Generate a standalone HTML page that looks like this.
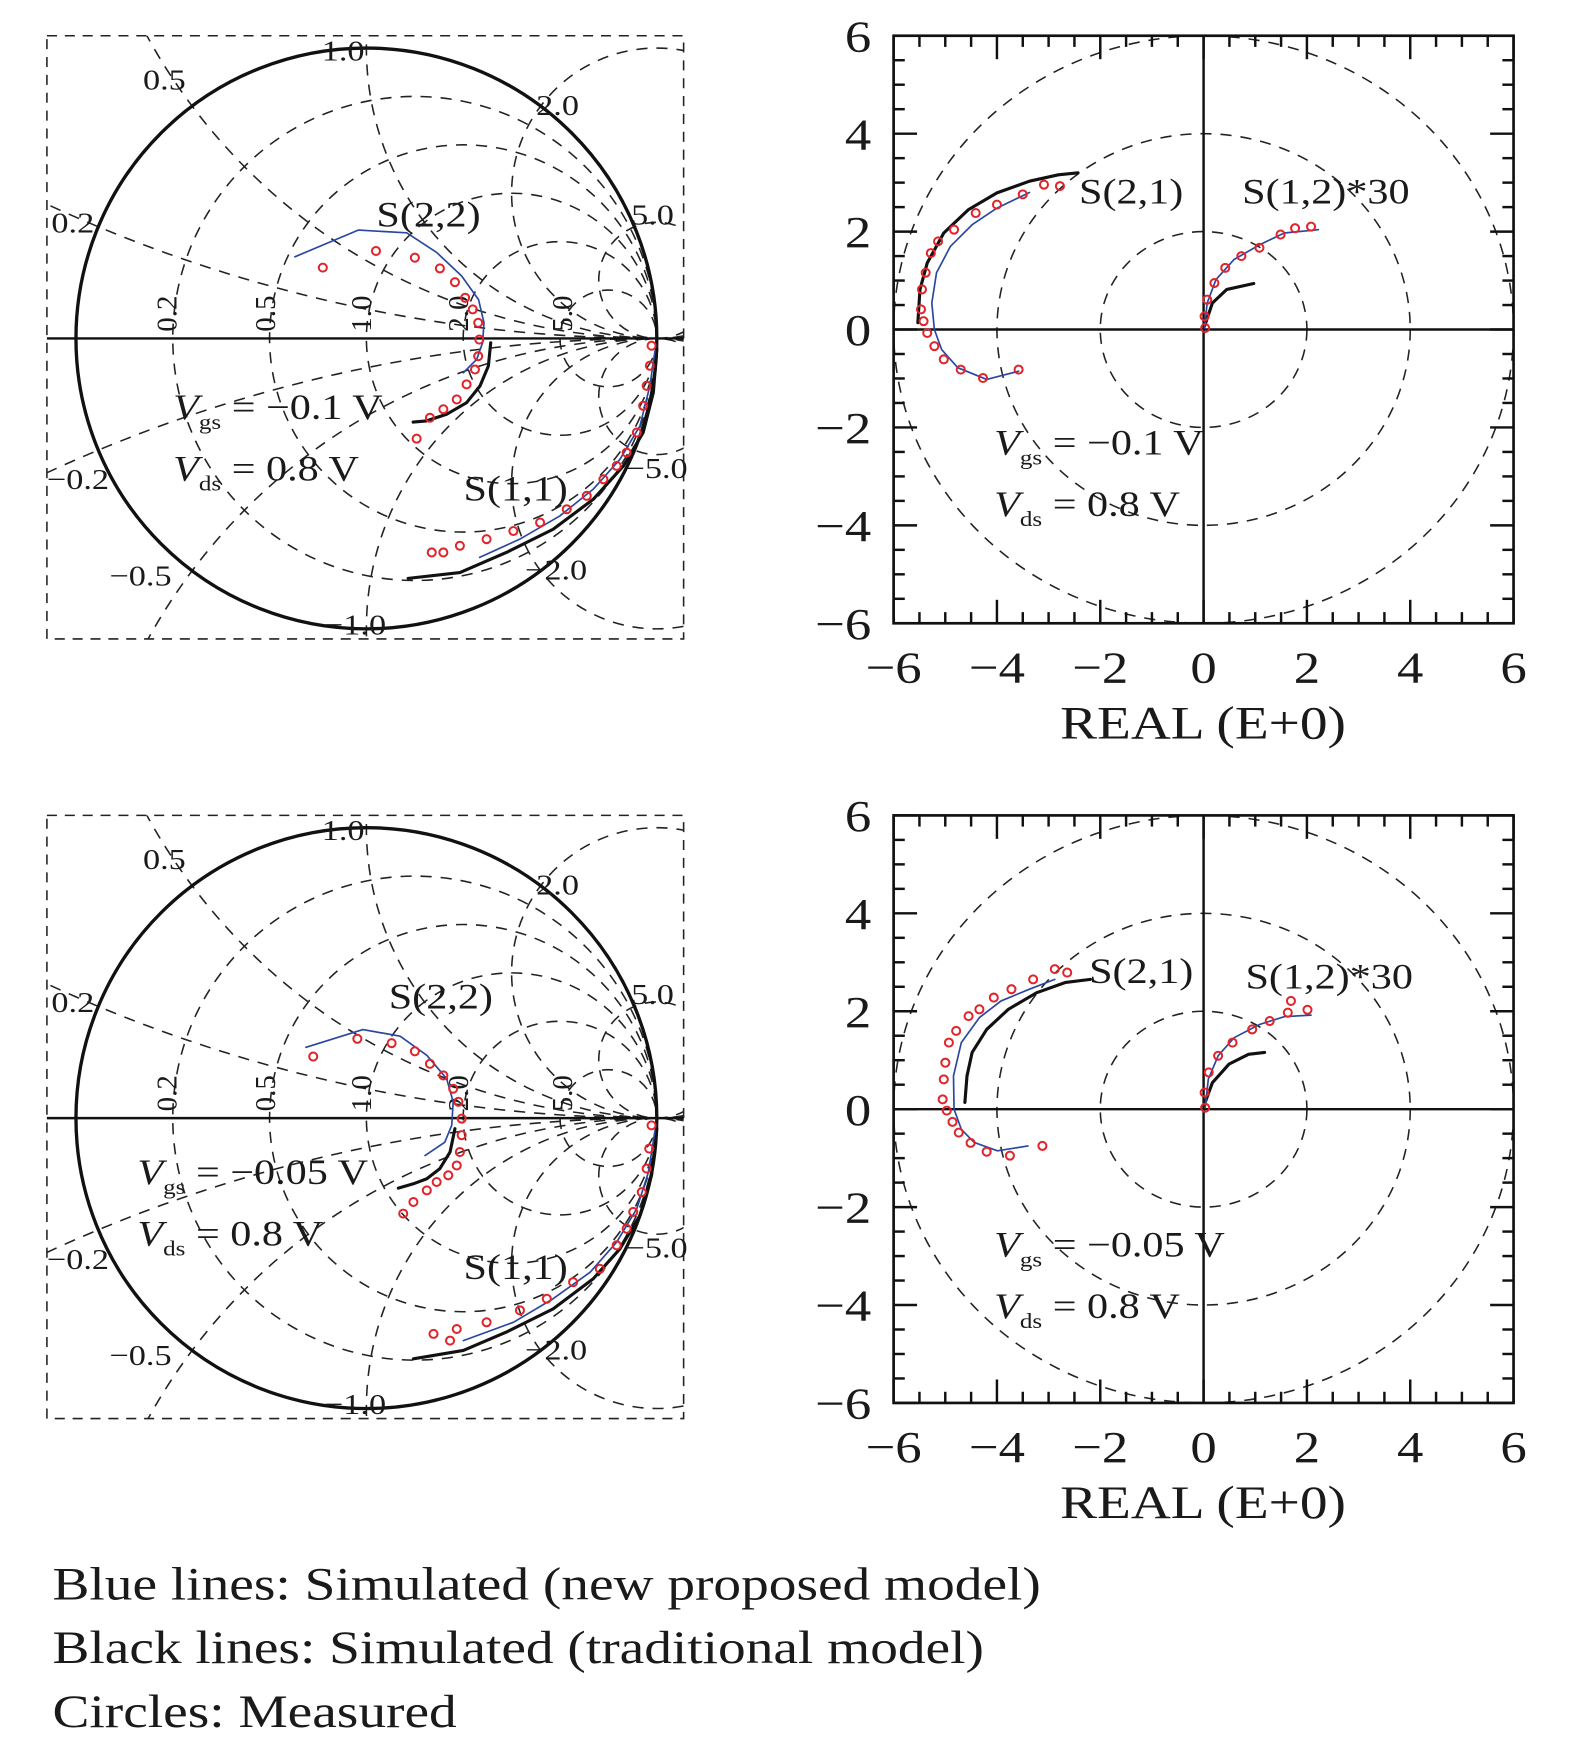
<!DOCTYPE html>
<html><head><meta charset="utf-8"><style>
html,body{margin:0;padding:0;background:#fff;overflow:hidden;width:1575px;height:1752px;}
svg{display:block;}
text{font-family:"Liberation Serif",serif;fill:#1a1a1a;}
</style></head><body>
<svg id="fig" width="1575" height="1752" viewBox="0 0 1410 1568.5" preserveAspectRatio="none" xmlns="http://www.w3.org/2000/svg">
<defs>
<clipPath id="clipTL"><rect x="42" y="32" width="570" height="540"/></clipPath>
<clipPath id="clipBL"><rect x="42" y="730" width="570" height="540"/></clipPath>
<clipPath id="clipTR"><rect x="800" y="32" width="555" height="526"/></clipPath>
<clipPath id="clipBR"><rect x="800" y="730" width="555" height="526"/></clipPath>
</defs>
<g id="layer"></g>
<text x="47" y="1432" font-size="42">Blue lines: Simulated (new proposed model)</text>
<text x="47" y="1489" font-size="42">Black lines: Simulated (traditional model)</text>
<text x="47" y="1546" font-size="42">Circles: Measured</text>
</svg>
<script>
// ---- Smith chart data (reflection coefficient, u = real, v = imag) ----
const tlS22BlueU=[-0.246,-0.028,0.139,0.242,0.328,0.386,0.405,0.4,0.38,0.334];
const tlS22BlueV=[0.281,0.373,0.364,0.296,0.215,0.134,0.054,-0.015,-0.072,-0.118];
const tlS22RedU=[-0.15,0.033,0.167,0.253,0.305,0.34,0.366,0.385,0.389,0.385,0.374,0.345,0.311,0.265,0.219,0.173];
const tlS22RedV=[0.244,0.301,0.278,0.241,0.194,0.14,0.1,0.054,-0.004,-0.061,-0.107,-0.158,-0.21,-0.244,-0.273,-0.345];
const tlS22BlackU=[0.428,0.42,0.391,0.345,0.276,0.207,0.161];
const tlS22BlackV=[-0.015,-0.095,-0.164,-0.221,-0.261,-0.284,-0.288];
const tlS11RedU=[0.982,0.976,0.965,0.953,0.931,0.896,0.862,0.816,0.759,0.69,0.598,0.506,0.414,0.322,0.265,0.225];
const tlS11RedV=[-0.025,-0.094,-0.163,-0.232,-0.324,-0.393,-0.439,-0.485,-0.542,-0.588,-0.634,-0.663,-0.691,-0.714,-0.737,-0.737];
const tlS11BlueU=[0.994,0.976,0.942,0.873,0.781,0.666,0.528,0.39];
const tlS11BlueV=[-0.042,-0.163,-0.301,-0.416,-0.519,-0.611,-0.691,-0.754];
const tlS11BlackU=[1.0,0.988,0.953,0.885,0.781,0.643,0.482,0.322,0.144];
const tlS11BlackV=[-0.036,-0.186,-0.324,-0.439,-0.554,-0.657,-0.737,-0.806,-0.826];

const blS22BlueU=[-0.208,-0.012,0.116,0.208,0.276,0.299,0.294,0.27,0.202];
const blS22BlueV=[0.244,0.305,0.282,0.216,0.136,0.056,-0.025,-0.083,-0.129];
const blS22RedU=[-0.183,-0.031,0.087,0.167,0.219,0.265,0.299,0.317,0.328,0.328,0.322,0.311,0.282,0.242,0.208,0.162,0.127];
const blS22RedV=[0.212,0.273,0.258,0.23,0.187,0.147,0.101,0.056,-0.002,-0.059,-0.117,-0.163,-0.197,-0.22,-0.249,-0.289,-0.329];
const blS22BlackU=[0.305,0.288,0.253,0.208,0.162,0.11];
const blS22BlackV=[-0.036,-0.117,-0.174,-0.209,-0.226,-0.241];
const blS11RedU=[0.982,0.974,0.965,0.948,0.919,0.896,0.862,0.804,0.712,0.621,0.529,0.414,0.311,0.231,0.288];
const blS11RedV=[-0.025,-0.105,-0.174,-0.255,-0.323,-0.381,-0.438,-0.519,-0.565,-0.622,-0.662,-0.703,-0.726,-0.743,-0.766];
const blS11BlueU=[0.994,0.971,0.931,0.862,0.77,0.643,0.506,0.334];
const blS11BlueV=[-0.042,-0.186,-0.312,-0.427,-0.531,-0.622,-0.703,-0.766];
const blS11BlackU=[1.0,0.982,0.942,0.873,0.781,0.643,0.482,0.334,0.162];
const blS11BlackV=[-0.036,-0.197,-0.335,-0.45,-0.553,-0.657,-0.737,-0.8,-0.829];

// ---- Polar chart data ----
const trS21RedX=[-2.78,-3.09,-3.5,-4.0,-4.41,-4.83,-5.14,-5.28,-5.38,-5.45,-5.47,-5.42,-5.35,-5.21,-5.03,-4.7,-4.27,-3.58];
const trS21RedY=[2.93,2.96,2.76,2.55,2.38,2.04,1.8,1.56,1.16,0.82,0.41,0.17,-0.07,-0.34,-0.61,-0.82,-0.99,-0.82];
const trS21BlueX=[-3.37,-4.0,-4.48,-4.9,-5.17,-5.26,-5.21,-5.07,-4.76,-4.2,-3.58];
const trS21BlueY=[2.8,2.48,2.14,1.7,1.16,0.54,0,-0.41,-0.78,-1.02,-0.85];
const trS21BlackX=[-2.43,-2.81,-3.37,-4.0,-4.55,-5.03,-5.35,-5.49,-5.53];
const trS21BlackY=[3.2,3.16,3.03,2.79,2.45,1.97,1.36,0.82,0.14];
const trS12RedX=[0.03,0.02,0.07,0.21,0.42,0.73,1.08,1.49,1.77,2.08];
const trS12RedY=[0.03,0.27,0.61,0.95,1.26,1.5,1.67,1.94,2.07,2.1];
const trS12BlueX=[0.02,0.07,0.24,0.59,1.08,1.56,2.22];
const trS12BlueY=[0.03,0.54,1.02,1.43,1.73,1.97,2.04];
const trS12BlackX=[0.02,0.17,0.45,0.97];
const trS12BlackY=[0.07,0.54,0.82,0.94];

const brS21RedX=[-2.64,-2.88,-3.3,-3.72,-4.06,-4.34,-4.55,-4.79,-4.93,-5.0,-5.03,-5.05,-4.97,-4.86,-4.74,-4.51,-4.2,-3.75,-3.12];
const brS21RedY=[2.79,2.86,2.65,2.45,2.28,2.04,1.9,1.6,1.36,0.95,0.61,0.2,-0.03,-0.26,-0.48,-0.69,-0.87,-0.95,-0.75];
const brS21BlueX=[-2.88,-3.37,-3.92,-4.34,-4.69,-4.84,-4.83,-4.69,-4.44,-3.99,-3.4];
const brS21BlueY=[2.65,2.45,2.21,1.87,1.36,0.68,0,-0.41,-0.68,-0.85,-0.75];
const brS21BlackX=[-2.19,-2.67,-3.23,-3.78,-4.2,-4.48,-4.58,-4.62];
const brS21BlackY=[2.65,2.59,2.38,2.04,1.63,1.16,0.68,0.14];
const brS12RedX=[0.03,0.02,0.1,0.28,0.56,0.94,1.28,1.63,1.69,2.01];
const brS12RedY=[0.03,0.34,0.75,1.09,1.36,1.63,1.8,1.97,2.21,2.03];
const brS12BlueX=[0.03,0.09,0.28,0.59,1.08,1.56,2.08];
const brS12BlueY=[0.03,0.61,1.09,1.46,1.73,1.89,1.92];
const brS12BlackX=[0.03,0.17,0.49,0.87,1.18];
const brS12BlackY=[0.14,0.54,0.92,1.12,1.16];

const polarTicks=[-6,-4,-2,0,2,4,6];
const smithR=[0.2,0.5,1,2,5];
const smithX=[0.2,0.5,1,2,5];

const NS='http://www.w3.org/2000/svg';
const layer=document.getElementById('layer');
function mk(tag,attrs,parent){const e=document.createElementNS(NS,tag);for(const k in attrs)e.setAttribute(k,attrs[k]);(parent||layer).appendChild(e);return e;}
function txt(x,y,s,size,parent,extra){const t=mk('text',Object.assign({x:x,y:y,'font-size':size},extra||{}),parent);t.textContent=s;return t;}

function polyline(pts,color,w,parent,name){
  const p=mk('polyline',{points:pts.map(q=>q[0].toFixed(1)+','+q[1].toFixed(1)).join(' '),fill:'none',stroke:color,'stroke-width':w,'stroke-linejoin':'round','stroke-linecap':'round'},parent);
  
  
}
function markers(pts,parent,name){
  const g=mk('g',{},parent);
  
  
  pts.forEach(q=>{
    const c=mk('circle',{cx:q[0].toFixed(1),cy:q[1].toFixed(1),r:3.6,fill:'none',stroke:'#e0242a','stroke-width':1.8},g);
    
    
  });
}

function smith(id,cx,cy,R,box,clip,sets,labels){
  const g=mk('g',{});
  
  
  const sx=u=>cx+u*R, sy=v=>cy-v*R;
  const b=mk('rect',{x:box[0],y:box[1],width:box[2]-box[0],height:box[3]-box[1],fill:'none',stroke:'#222','stroke-width':1.4,'stroke-dasharray':'9,7'},g);
  
  
  const grid=mk('g',{'clip-path':'url(#'+clip+')',fill:'none',stroke:'#222','stroke-width':1.4,'stroke-dasharray':'10,8'},g);
  
  
  smithR.forEach(r=>{const c=mk('circle',{cx:sx(r/(1+r)),cy:cy,r:R/(1+r)},grid);
    
    });
  smithX.forEach(x=>{[1,-1].forEach(s=>{const c=mk('circle',{cx:cx+R,cy:cy-s*R/x,r:R/x},grid);
    
    });});
  const ax=mk('line',{x1:box[0],y1:cy,x2:box[2],y2:cy,stroke:'#111','stroke-width':2.2},g);
  
  
  const uc=mk('circle',{cx:cx,cy:cy,r:R,fill:'none',stroke:'#111','stroke-width':3},g);
  
  
  labels.forEach(l=>{
    const t=txt(l[0],l[1],l[2],26,g,l[3]?{transform:'rotate(-90 '+l[0]+' '+l[1]+')'}:{});
    
    
  });
  const P=(U,V)=>U.map((u,i)=>[sx(u),sy(V[i])]);
  polyline(P(sets.s22k[0],sets.s22k[1]),'#111',2.8,g,'s22-traditional-line');
  polyline(P(sets.s11k[0],sets.s11k[1]),'#111',2.8,g,'s11-traditional-line');
  polyline(P(sets.s22b[0],sets.s22b[1]),'#2a47a0',1.5,g,'s22-proposed-line');
  polyline(P(sets.s11b[0],sets.s11b[1]),'#2a47a0',1.5,g,'s11-proposed-line');
  markers(P(sets.s22r[0],sets.s22r[1]),g,'s22-measured');
  markers(P(sets.s11r[0],sets.s11r[1]),g,'s11-measured');
  return g;
}

function smithLabels(dy){
  return [[158,297+dy,'0.2',1],[246,297+dy,'0.5',1],[332,297+dy,'1.0',1],[419,297+dy,'2.0',1],[512,297+dy,'5.0',1],
    [288,54+dy,'1.0'],[128,80+dy,'0.5'],[46,208+dy,'0.2'],[480,103+dy,'2.0'],[565,201+dy,'5.0'],
    [42,438+dy,'\u22120.2'],[98,524+dy,'\u22120.5'],[290,568+dy,'\u22121.0'],[470,519+dy,'\u22122.0'],[560,428+dy,'\u22125.0']];
}

smith('smith-chart-top',328,303,260,[42,32,612,572],'clipTL',
 {s22b:[tlS22BlueU,tlS22BlueV],s22r:[tlS22RedU,tlS22RedV],s22k:[tlS22BlackU,tlS22BlackV],
  s11b:[tlS11BlueU,tlS11BlueV],s11r:[tlS11RedU,tlS11RedV],s11k:[tlS11BlackU,tlS11BlackV]},smithLabels(0));
smith('smith-chart-bottom',328,1001,260,[42,730,612,1270],'clipBL',
 {s22b:[blS22BlueU,blS22BlueV],s22r:[blS22RedU,blS22RedV],s22k:[blS22BlackU,blS22BlackV],
  s11b:[blS11BlueU,blS11BlueV],s11r:[blS11RedU,blS11RedV],s11k:[blS11BlackU,blS11BlackV]},smithLabels(698));

function polar(id,top,clip,sets){
  const L=800,Rr=1355,T=top,B=top+526;
  const sxs=(Rr-L)/12, sys=(B-T)/12;
  const X=v=>L+(v+6)*sxs, Y=v=>B-(v+6)*sys;
  const g=mk('g',{});
  
  
  const grid=mk('g',{'clip-path':'url(#'+clip+')',fill:'none',stroke:'#222','stroke-width':1.4,'stroke-dasharray':'10,8'},g);
  
  
  [2,4,6].forEach(r=>{const e=mk('ellipse',{cx:X(0),cy:Y(0),rx:r*sxs,ry:r*sys},grid);
    
    });
  const fr=mk('rect',{x:L,y:T,width:Rr-L,height:B-T,fill:'none',stroke:'#111','stroke-width':2.4},g);
  
  
  const a1=mk('line',{x1:L,y1:Y(0),x2:Rr,y2:Y(0),stroke:'#111','stroke-width':2.2},g);
  
  
  const a2=mk('line',{x1:X(0),y1:T,x2:X(0),y2:B,stroke:'#111','stroke-width':2.2},g);
  
  
  const tk=mk('g',{stroke:'#111','stroke-width':2.2},g);
  
  
  for(let k=-12;k<=12;k++){
    const v=k/2, major=(k%4===0), len=major?21:10;
    mk('line',{x1:X(v),y1:B,x2:X(v),y2:B-len},tk);
    mk('line',{x1:X(v),y1:T,x2:X(v),y2:T+len},tk);
    mk('line',{x1:L,y1:Y(v),x2:L+len,y2:Y(v)},tk);
    mk('line',{x1:Rr,y1:Y(v),x2:Rr-len,y2:Y(v)},tk);
  }
  polarTicks.forEach(v=>{
    const s=v<0?'\u2212'+(-v):String(v);
    const t1=txt(X(v),B+53,s,40,g,{'text-anchor':'middle'});
    
    
    const t2=txt(L-20,Y(v)+14,s,40,g,{'text-anchor':'end'});
    
    
  });
  const xt=txt(1077,B+103,'REAL (E+0)',42,g,{'text-anchor':'middle'});
  
  
  const P=(A,Bv)=>A.map((x,i)=>[X(x),Y(Bv[i])]);
  polyline(P(sets.s21k[0],sets.s21k[1]),'#111',2.8,g,'s21-traditional-line');
  polyline(P(sets.s12k[0],sets.s12k[1]),'#111',2.8,g,'s12-traditional-line');
  polyline(P(sets.s21b[0],sets.s21b[1]),'#2a47a0',1.5,g,'s21-proposed-line');
  polyline(P(sets.s12b[0],sets.s12b[1]),'#2a47a0',1.5,g,'s12-proposed-line');
  markers(P(sets.s21r[0],sets.s21r[1]),g,'s21-measured');
  markers(P(sets.s12r[0],sets.s12r[1]),g,'s12-measured');
}
polar('polar-chart-top',32,'clipTR',{s21b:[trS21BlueX,trS21BlueY],s21r:[trS21RedX,trS21RedY],s21k:[trS21BlackX,trS21BlackY],
  s12b:[trS12BlueX,trS12BlueY],s12r:[trS12RedX,trS12RedY],s12k:[trS12BlackX,trS12BlackY]});
polar('polar-chart-bottom',730,'clipBR',{s21b:[brS21BlueX,brS21BlueY],s21r:[brS21RedX,brS21RedY],s21k:[brS21BlackX,brS21BlackY],
  s12b:[brS12BlueX,brS12BlueY],s12r:[brS12RedX,brS12RedY],s12k:[brS12BlackX,brS12BlackY]});

function anno(x,y,s,name){const t=txt(x,y,s,32,layer);}
anno(337,203,'S(2,2)','s22-label');anno(415,448,'S(1,1)','s11-label');
anno(966,182,'S(2,1)','s21-label');anno(1112,182,'S(1,2)*30','s12-label');
anno(348,903,'S(2,2)','s22-label');anno(415,1145,'S(1,1)','s11-label');
anno(975,880,'S(2,1)','s21-label');anno(1115,885,'S(1,2)*30','s12-label');
function bias(x,y,sub,val,name){
  const t=mk('text',{x:x,y:y,'font-size':32});
  
  
  t.innerHTML='<tspan font-style="italic">V</tspan><tspan font-size="19" dy="9">'+sub+'</tspan><tspan dy="-9"> = '+val+'</tspan>';
}
bias(155,375,'gs','\u22120.1 V','vgs-label');bias(155,430,'ds','0.8 V','vds-label');
bias(890,407,'gs','\u22120.1 V','vgs-label');bias(890,462,'ds','0.8 V','vds-label');
bias(123,1060,'gs','\u22120.05 V','vgs-label');bias(123,1115,'ds','0.8 V','vds-label');
bias(890,1125,'gs','\u22120.05 V','vgs-label');bias(890,1180,'ds','0.8 V','vds-label');

// widen all glyphs horizontally to match the reference's stretched serif type
const SX=1.18;
document.querySelectorAll('#fig text').forEach(t=>{
  if(t.getAttribute('transform'))return;
  const x=parseFloat(t.getAttribute('x'));
  t.setAttribute('transform','translate('+(x*(1-SX)).toFixed(2)+',0) scale('+SX+',1)');
});
</script>
</body></html>
